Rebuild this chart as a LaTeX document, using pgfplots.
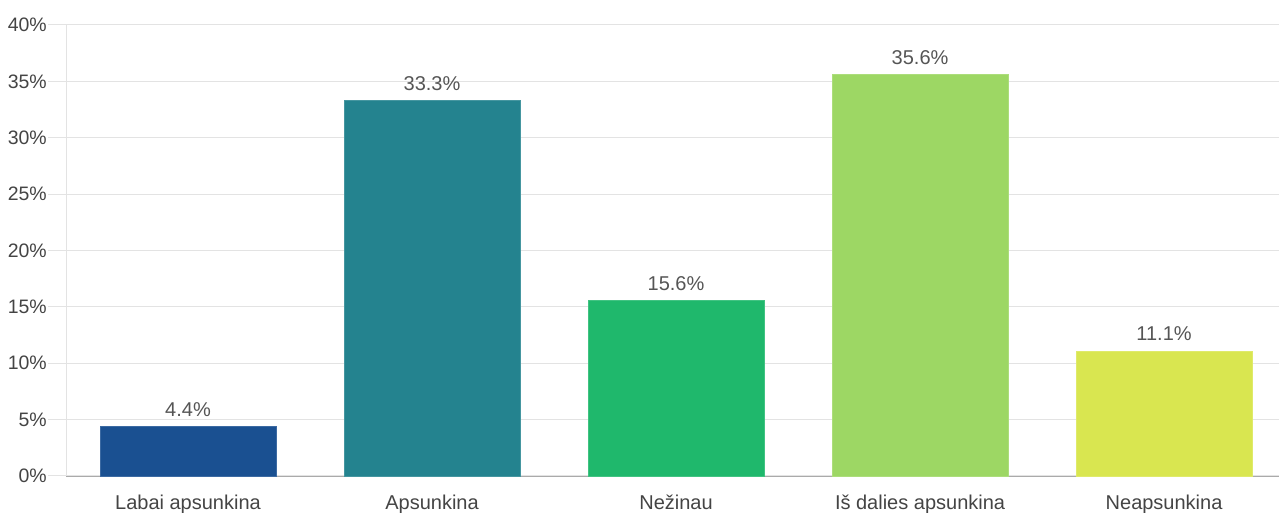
\documentclass[border=0pt]{standalone}
\usepackage{pgfplots}
\pgfplotsset{compat=1.18}
\usepackage{fontspec}
\setmainfont{Liberation Sans}
\definecolor{gridcol}{HTML}{E3E3E3}
\definecolor{basecol}{HTML}{AAAAAA}
\definecolor{txtcol}{HTML}{444444}
\definecolor{valcol}{HTML}{555555}
\definecolor{c1}{HTML}{1A5091}
\definecolor{c2}{HTML}{24838F}
\definecolor{c3}{HTML}{1FB86C}
\definecolor{c4}{HTML}{9DD764}
\definecolor{c5}{HTML}{D9E650}
\begin{document}
\begin{tikzpicture}
\path[use as bounding box] (-49.5pt,-27.75pt) rectangle (909.75pt,357pt);
\begin{axis}[
  at={(0,0)}, anchor=south west,
  scale only axis,
  width=909.75pt, height=338.25pt,
  xmin=-0.5, xmax=4.471,
  ymin=0, ymax=40,
  axis x line*=bottom, axis y line*=left,
  x axis line style={basecol},
  y axis line style={gridcol},
  ytick={0,5,...,40},
  yticklabels={0\%,5\%,10\%,15\%,20\%,25\%,30\%,35\%,40\%},
  ymajorgrids, grid style={gridcol, line width=0.75pt},
  tick align=outside,
  major tick length=13.5pt,
  ytick style={gridcol, line width=0.75pt},
  xtick={0,1,2,3,4},
  xticklabels={Labai apsunkina,Apsunkina,Nežinau,Iš dalies apsunkina,Neapsunkina},
  xtick style={draw=none},
  yticklabel style={anchor=east, inner sep=0pt, xshift=-0.75pt, text=txtcol, font=\fontsize{14.6}{17}\selectfont},
  xticklabel style={anchor=base, inner sep=0pt, yshift=-12pt, text=txtcol, font=\fontsize{15}{18}\selectfont},
  ybar, bar width=0.72, bar shift=0pt,
  point meta=explicit symbolic,
  nodes near coords={\pgfplotspointmeta\%},
  every node near coord/.append style={anchor=base, inner sep=0pt, yshift=7.5pt, text=valcol, font=\fontsize{15}{18}\selectfont},
  clip=false,
]
\addplot[fill=c1, draw=c1!85!white] coordinates {(0,4.4) [4.4]};
\addplot[fill=c2, draw=c2!85!white] coordinates {(1,33.3) [33.3]};
\addplot[fill=c3, draw=c3!85!white] coordinates {(2,15.6) [15.6]};
\addplot[fill=c4, draw=c4!85!white] coordinates {(3,35.6) [35.6]};
\addplot[fill=c5, draw=c5!85!white] coordinates {(4,11.1) [11.1]};
\end{axis}
\end{tikzpicture}
\end{document}
